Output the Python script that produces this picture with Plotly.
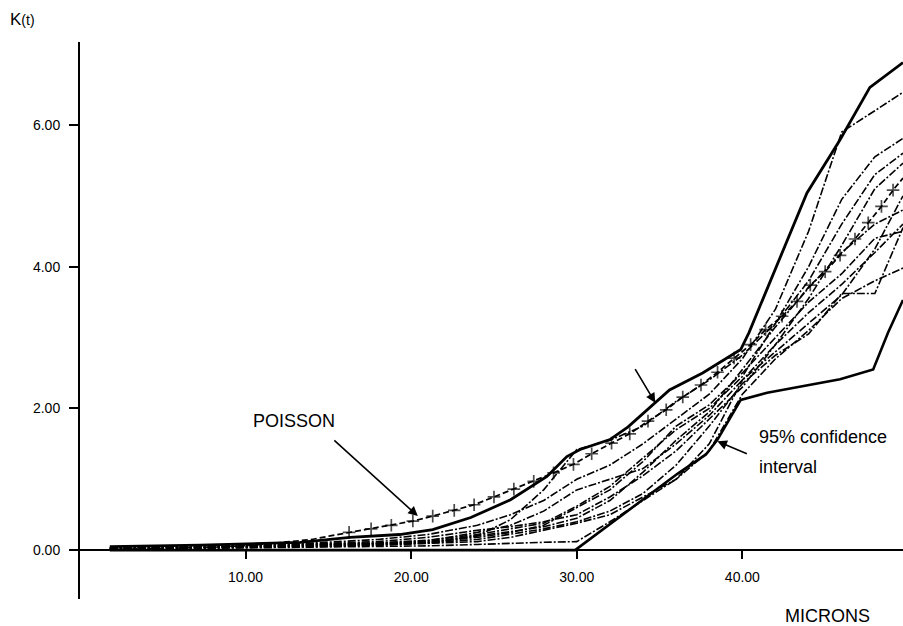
import plotly.graph_objects as go

# ---- data ----
sim_x = [1.8, 6, 10, 14, 18, 21, 24, 26, 28, 30, 32, 34, 36, 38, 40, 42, 44, 46, 48, 49.7]
sims = {
    "S1": [0.03, 0.04, 0.06, 0.09, 0.12, 0.18, 0.28, 0.33, 0.40, 0.50, 0.75, 1.05, 1.40, 1.85, 2.30, 2.90, 3.55, 4.30, 5.10, 5.46],
    "S2": [0.02, 0.03, 0.05, 0.08, 0.10, 0.14, 0.22, 0.30, 0.38, 0.62, 0.90, 1.30, 1.70, 2.00, 2.45, 3.20, 4.00, 4.95, 5.55, 5.81],
    "S3": [0.02, 0.03, 0.05, 0.07, 0.09, 0.12, 0.20, 0.26, 0.33, 0.45, 0.70, 1.10, 1.55, 1.95, 2.55, 3.15, 3.70, 4.20, 4.60, 4.80],
    "S4": [0.03, 0.04, 0.06, 0.08, 0.10, 0.13, 0.25, 0.35, 0.55, 0.85, 1.00, 1.15, 1.50, 1.90, 2.40, 2.80, 3.20, 3.60, 4.25, 5.00],
    "S5": [0.02, 0.03, 0.04, 0.06, 0.08, 0.10, 0.15, 0.22, 0.30, 0.40, 0.55, 0.80, 1.20, 1.75, 2.35, 2.75, 3.05, 3.62, 3.62, 4.55],
    "S6": [0.03, 0.04, 0.05, 0.07, 0.09, 0.11, 0.18, 0.25, 0.35, 0.60, 0.85, 1.25, 1.75, 2.05, 2.50, 3.00, 3.50, 3.90, 4.40, 4.50],
    "S7": [0.02, 0.03, 0.04, 0.05, 0.07, 0.09, 0.12, 0.18, 0.28, 0.38, 0.50, 0.75, 1.00, 1.40, 2.20, 2.70, 3.10, 3.55, 3.80, 3.98],
    "S8": [0.02, 0.03, 0.04, 0.05, 0.07, 0.10, 0.20, 0.43, 0.85, 1.42, 1.55, 1.75, 2.10, 2.40, 2.75, 3.20, 3.80, 4.60, 5.30, 5.60],
    "S9": [0.01, 0.02, 0.03, 0.04, 0.05, 0.06, 0.08, 0.10, 0.11, 0.12, 0.40, 0.70, 1.00, 1.50, 2.40, 2.90, 3.35, 3.75, 4.20, 4.60],
    "S10": [0.04, 0.05, 0.07, 0.10, 0.15, 0.22, 0.35, 0.50, 0.70, 1.00, 1.20, 1.50, 1.85, 2.20, 2.70, 3.40, 4.50, 5.90, 6.20, 6.46],
}

upper_x = [1.8, 7.25, 13.3, 16.3, 19.3, 21.3, 23.6, 26.0, 28.2, 29.4, 30.2, 32.0, 33.1, 35.6, 37.6, 39.9, 40.4, 42.7, 43.9, 45.9, 47.7, 49.7]
upper_y = [0.05, 0.07, 0.11, 0.18, 0.22, 0.29, 0.46, 0.71, 1.04, 1.32, 1.42, 1.56, 1.74, 2.26, 2.50, 2.83, 3.07, 4.37, 5.04, 5.79, 6.53, 6.88]

lower_x = [1.8, 29.9, 36.1, 37.8, 38.5, 39.9, 41.5, 45.9, 47.9, 48.8, 49.7]
lower_y = [0.0, 0.0, 1.08, 1.35, 1.56, 2.12, 2.22, 2.41, 2.55, 3.07, 3.53]

poisson_x = [2, 5, 8, 10.5, 12.5, 14, 15.1, 16.25, 17.58, 18.8, 20.1, 21.3, 22.6, 23.8, 25.0, 26.2, 27.4, 28.6,
             29.8, 30.9, 32.1, 33.2, 34.3, 35.4, 36.4, 37.5, 38.5, 39.5, 40.5, 41.4, 42.4, 43.3, 44.1, 45.0,
             45.9, 46.8, 47.6, 48.4, 49.1, 49.7]
poisson_y = [0.01, 0.02, 0.04, 0.07, 0.11, 0.15, 0.20, 0.25, 0.30, 0.35, 0.41, 0.48, 0.56, 0.64, 0.75, 0.86, 0.97, 1.09,
             1.21, 1.36, 1.51, 1.64, 1.82, 1.98, 2.16, 2.33, 2.51, 2.71, 2.90, 3.11, 3.30, 3.51, 3.74, 3.93,
             4.16, 4.39, 4.62, 4.85, 5.08, 5.25]

x_ticks = [10, 20, 30, 40]
y_ticks = [0, 2, 4, 6]
x_range = [0, 49.7]
y_range = [-0.69, 7.17]

FONT = "Liberation Sans, Arial, sans-serif"

fig = go.Figure()

for name, ys in sims.items():
    fig.add_trace(go.Scatter(x=sim_x, y=ys, mode="lines", name=name,
                             line=dict(color="black", width=1.6, dash="8px,2px,2px,2px")))

fig.add_trace(go.Scatter(x=upper_x, y=upper_y, mode="lines", name="upper",
                         line=dict(color="black", width=2.8)))
fig.add_trace(go.Scatter(x=lower_x, y=lower_y, mode="lines", name="lower",
                         line=dict(color="black", width=2.6)))

msize = [0 if (x < 16 or x > 49.5) else 9 for x in poisson_x]
fig.add_trace(go.Scatter(x=poisson_x, y=poisson_y, mode="lines+markers", name="Poisson",
                         line=dict(color="black", width=1.7, dash="6px,3px"),
                         marker=dict(symbol="cross-thin", size=msize,
                                     line=dict(color="black", width=1.7))))

ypos = (0 - y_range[0]) / (y_range[1] - y_range[0])

fig.update_layout(
    width=903, height=626,
    margin=dict(l=80, r=0, t=42, b=27),
    paper_bgcolor="white", plot_bgcolor="white",
    showlegend=False,
    font=dict(family=FONT, color="black", size=15),
    xaxis=dict(range=x_range, tickvals=x_ticks, tickformat=".2f",
               showgrid=False, zeroline=False, showline=True, linecolor="black", linewidth=2,
               ticks="outside", ticklen=8, tickwidth=1.5, tickcolor="black",
               anchor="free", position=ypos, ticklabelstandoff=6,
               tickfont=dict(size=14)),
    yaxis=dict(range=y_range, tickvals=y_ticks, tickformat=".2f",
               showgrid=False, zeroline=False, showline=True, linecolor="black", linewidth=2,
               ticks="outside", ticklen=9, tickwidth=1.5, tickcolor="black",
               ticklabelstandoff=6, tickfont=dict(size=14)),
)

# labels
fig.add_annotation(xref="paper", yref="paper", x=-0.0875, y=1.041, xanchor="left", yanchor="middle",
                   text="K<span style='font-size:14px'>(t)</span>", showarrow=False, font=dict(size=17))
fig.add_annotation(xref="paper", yref="paper", x=0.9077, y=-0.030, xanchor="center", yanchor="middle",
                   text="MICRONS", showarrow=False, font=dict(size=18))
fig.add_annotation(x=12.93, y=1.82, text="POISSON", showarrow=False, font=dict(size=18))
fig.add_annotation(x=40.9, y=1.59, xanchor="left", text="95% confidence", showarrow=False, font=dict(size=18))
fig.add_annotation(x=40.9, y=1.17, xanchor="left", text="interval", showarrow=False, font=dict(size=18))

# arrows
arrow = dict(showarrow=True, arrowhead=2, arrowsize=1.2, arrowwidth=1.6, arrowcolor="black", text="")
fig.add_annotation(x=20.4, y=0.48, ax=-85, ay=-77, **arrow)
fig.add_annotation(x=34.74, y=2.08, ax=-21, ay=-35, **arrow)
fig.add_annotation(x=38.49, y=1.535, ax=31, ay=13, **arrow)

# remove the page's default body margin so the figure fills the window exactly
fig.write_html("out.html",
               config={"displayModeBar": False},
               post_script="document.body.style.margin='0px';document.body.style.overflow='hidden';")
